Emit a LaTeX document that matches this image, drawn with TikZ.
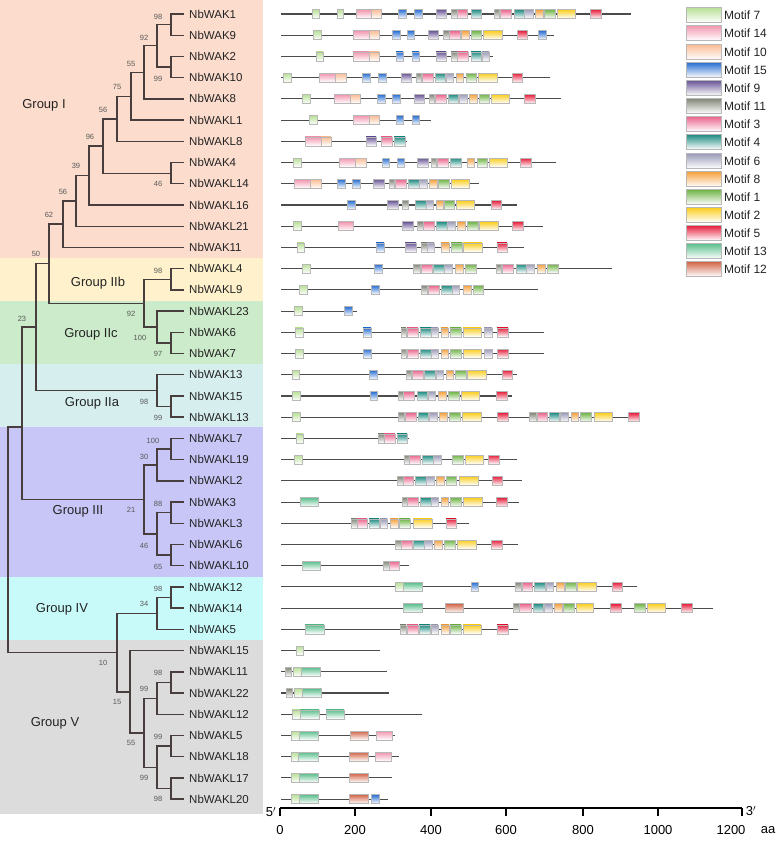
\documentclass[tikz,border=0pt]{standalone}
\usepackage{fontspec}
\setmainfont{Liberation Sans}
\definecolor{bgI}{RGB}{252,220,204}
\definecolor{bgIIb}{RGB}{254,241,204}
\definecolor{bgIIc}{RGB}{204,235,202}
\definecolor{bgIIa}{RGB}{214,238,238}
\definecolor{bgIII}{RGB}{200,198,246}
\definecolor{bgIV}{RGB}{200,250,250}
\definecolor{bgV}{RGB}{220,220,220}
\definecolor{mc7}{RGB}{184,224,150}
\definecolor{mc14}{RGB}{242,150,175}
\definecolor{mc10}{RGB}{250,188,148}
\definecolor{mc15}{RGB}{40,110,210}
\definecolor{mc9}{RGB}{105,85,150}
\definecolor{mc11}{RGB}{130,135,120}
\definecolor{mc3}{RGB}{235,100,140}
\definecolor{mc4}{RGB}{30,140,130}
\definecolor{mc6}{RGB}{155,155,185}
\definecolor{mc8}{RGB}{245,160,60}
\definecolor{mc1}{RGB}{110,180,70}
\definecolor{mc2}{RGB}{250,205,30}
\definecolor{mc5}{RGB}{230,30,60}
\definecolor{mc13}{RGB}{90,190,140}
\definecolor{mc12}{RGB}{210,100,70}
\definecolor{treec}{RGB}{72,62,62}
\definecolor{txt}{RGB}{35,35,35}
\newcommand{\mrow}[3]{%
  \draw[gene] (281,#1) -- (#2,#1);
  \foreach \a/\b/\c in {#3} {
    \path[mbox, top color=mc\c, bottom color=white] (\a,#1-4.5) rectangle (\b,#1+4.5);
  }%
}
\begin{document}
\begin{tikzpicture}[x=1pt,y=-1pt,
  leaf/.style={anchor=west, inner sep=0pt, text=txt, font=\fontsize{11.5}{13}\selectfont},
  grp/.style={inner sep=0pt, text=txt, font=\fontsize{13}{15}\selectfont},
  bs/.style={inner sep=0pt, text=black!65, font=\fontsize{7.5}{9}\selectfont},
  br/.style={draw=treec, line width=1.4pt},
  gene/.style={draw=black!70, line width=1.1pt},
  mbox/.style={draw=black!28, line width=0.6pt},
  leg/.style={anchor=west, inner sep=0pt, text=txt, font=\fontsize{12}{14}\selectfont},
  axl/.style={inner sep=0pt, text=black, font=\fontsize{13}{15}\selectfont}]
\useasboundingbox (0,0) rectangle (777,843);
\fill[white] (0,0) rectangle (777,843);
% group bands
\fill[bgI] (0,0) rectangle (263,258);
\fill[bgIIb] (0,258) rectangle (263,301);
\fill[bgIIc] (0,301) rectangle (263,364);
\fill[bgIIa] (0,364) rectangle (263,427);
\fill[bgIII] (0,427) rectangle (263,577);
\fill[bgIV] (0,577) rectangle (263,640);
\fill[bgV] (0,640) rectangle (263,814);
\node[grp] (gI) at (44,105) {Group I};
\node[grp] (gIIb) at (98,283) {Group IIb};
\node[grp] (gIIc) at (91,334) {Group IIc};
\node[grp] (gIIa) at (92,403) {Group IIa};
\node[grp] (gIII) at (78,511) {Group III};
\node[grp] (gIV) at (62,609) {Group IV};
\node[grp] (gV) at (55,723) {Group V};
% leaves
\foreach \nm [count=\i from 0] in {NbWAK1,NbWAK9,NbWAK2,NbWAK10,NbWAK8,NbWAKL1,NbWAKL8,NbWAK4,NbWAKL14,NbWAKL16,NbWAKL21,NbWAK11,NbWAKL4,NbWAKL9,NbWAKL23,NbWAK6,NbWAK7,NbWAK13,NbWAK15,NbWAKL13,NbWAKL7,NbWAKL19,NbWAKL2,NbWAK3,NbWAKL3,NbWAKL6,NbWAKL10,NbWAK12,NbWAK14,NbWAK5,NbWAKL15,NbWAKL11,NbWAKL22,NbWAKL12,NbWAKL5,NbWAKL18,NbWAKL17,NbWAKL20} {
  \coordinate (t\i) at (184,{14+21.22*\i});
  \node[leaf] (leaf\i) at (189,{14+21.22*\i}) {\nm};
}
% internal nodes
\coordinate (a19) at (171,24.6);
\coordinate (a210) at (171,67.05);
\coordinate (a92) at (157,45.8);
\coordinate (a55) at (144,72.4);
\coordinate (a75) at (131,96.2);
\coordinate (a56) at (117,118.8);
\coordinate (a414) at (171,173.2);
\coordinate (a96) at (103,146.0);
\coordinate (a39) at (89,175.5);
\coordinate (b56) at (76,200.9);
\coordinate (a62) at (63,224.1);
\coordinate (aL49) at (171,279.3);
\coordinate (a67) at (171,342.9);
\coordinate (a100) at (157,327.0);
\coordinate (b92) at (144,303.2);
\coordinate (a50) at (49,263.6);
\coordinate (a1513) at (171,406.6);
\coordinate (aIIa) at (157,390.7);
\coordinate (a23) at (36,327.1);
\coordinate (aL719) at (171,449.0);
\coordinate (a30) at (157,464.9);
\coordinate (a3L3) at (171,512.7);
\coordinate (aL610) at (171,555.1);
\coordinate (b46) at (157,533.9);
\coordinate (a21) at (144,499.4);
\coordinate (aA) at (22,427);
\coordinate (a1214) at (171,597.6);
\coordinate (a34) at (157,613.5);
\coordinate (aL1122) at (171,682.4);
\coordinate (c99) at (157,698.4);
\coordinate (aL518) at (171,746.1);
\coordinate (aL1720) at (171,788.5);
\coordinate (d99) at (157,767.3);
\coordinate (b55) at (144,732.9);
\coordinate (a15) at (130,691.8);
\coordinate (a10) at (117,652.7);
\coordinate (root) at (8,533);
\foreach \p/\c in {a19/t0,a19/t1,a210/t2,a210/t3,a92/a19,a92/a210,a55/a92,a55/t4,a75/a55,a75/t5,a56/a75,a56/t6,a414/t7,a414/t8,a96/a56,a96/a414,a39/a96,a39/t9,b56/a39,b56/t10,a62/b56,a62/t11,aL49/t12,aL49/t13,a67/t15,a67/t16,a100/t14,a100/a67,b92/aL49,b92/a100,a50/a62,a50/b92,a1513/t18,a1513/t19,aIIa/t17,aIIa/a1513,a23/a50,a23/aIIa,aL719/t20,aL719/t21,a30/aL719,a30/t22,a3L3/t23,a3L3/t24,aL610/t25,aL610/t26,b46/a3L3,b46/aL610,a21/a30,a21/b46,aA/a23,aA/a21,a1214/t27,a1214/t28,a34/a1214,a34/t29,aL1122/t31,aL1122/t32,c99/aL1122,c99/t33,aL518/t34,aL518/t35,aL1720/t36,aL1720/t37,d99/aL518,d99/aL1720,b55/c99,b55/d99,a15/t30,a15/b55,a10/a34,a10/a15,root/aA,root/a10} {
  \draw[br] (\p) |- (\c);
}
% bootstrap values
\foreach \x/\y/\t [count=\k] in {158/17/98,144/38/92,158/79/99,131/64/55,117/87/75,103/110/56,90/137/96,76/166/39,158/184/46,63/192/56,49/215/62,36/254/50,158/271/98,131/314/92,22/319/23,140/338/100,158/354/97,144/402/98,158/418/99,153/441/100,144/457/30,131/510/21,158/504/88,144/546/46,158/567/65,158/589/98,144/604/34,103/663/10,158/673/98,144/689/99,117/702/15,158/737/99,131/743/55,144/778/99,158/799/98} {
  \node[bs] (bs\k) at (\x,\y) {\t};
}
% motif rows
\mrow{14.0}{631}{312/319/7,337/343/7,356/371/14,371/381/10,398/406/15,414/422/15,436/446/9,451/457/11,457/467/3,471/481/4,494/499/11,500/511/3,514/524/4,524/533/6,535/543/8,544/555/1,557/575/2,590/601/5}
\mrow{35.2}{554}{313/321/7,353/369/14,369/379/10,392/400/15,407/414/15,428/438/9,443/449/11,449/460/3,461/469/8,471/481/1,483/502/2,517/527/5,538/546/15}
\mrow{56.4}{493}{316/323/7,353/369/14,369/379/10,396/403/15,412/419/15,436/446/9,451/457/11,457/468/3,471/481/4,482/489/6}
\mrow{77.7}{550}{283/291/7,319/335/14,335/346/10,362/370/15,378/386/15,401/411/9,416/421/11,422/433/3,435/445/4,446/453/6,456/463/8,466/476/1,478/497/2,512/522/5}
\mrow{98.9}{561}{302/310/7,334/350/14,350/360/10,377/385/15,392/400/15,414/424/9,429/434/11,435/446/3,448/458/4,459/467/6,469/477/8,479/489/1,491/509/2,524/535/5}
\mrow{120.1}{431}{309/317/7,353/369/14,369/379/10,396/403/15,412/419/15}
\mrow{141.3}{407}{305/321/14,321/331/10,366/376/9,381/392/3,394/405/4}
\mrow{162.5}{556}{293/301/7,339/355/14,355/366/10,382/389/15,397/404/15,417/428/9,431/436/11,437/448/3,450/461/4,467/474/8,477/487/1,489/507/2,520/531/5}
\mrow{183.8}{479}{294/310/14,310/321/10,337/345/15,352/360/15,373/384/9,389/394/11,395/406/3,408/419/4,419/427/6,429/437/8,438/449/1,451/469/2}
\mrow{205.0}{517}{347/355/15,387/398/9,402/408/11,415/426/4,426/433/6,436/443/8,444/454/1,456/474/2,491/501/5}
\mrow{226.2}{543}{293/301/7,338/353/14,402/413/9,417/423/11,423/434/3,436/447/4,447/455/6,457/465/8,467/478/1,479/498/2,512/523/5}
\mrow{247.4}{524}{297/304/7,376/384/15,405/416/9,421/427/11,427/434/6,441/449/8,451/462/1,463/482/2,497/507/5}
\mrow{268.6}{612}{302/310/7,374/382/15,413/420/11,421/432/3,433/444/4,444/452/6,455/463/8,465/476/1,496/501/11,502/513/3,516/526/4,526/534/6,537/545/8,547/558/1}
\mrow{289.9}{538}{299/307/7,371/379/15,421/427/11,428/439/3,441/452/4,452/459/6,463/471/8,473/483/1}
\mrow{311.1}{357}{294/302/7,344/352/15}
\mrow{332.3}{544}{295/303/7,363/371/15,401/406/11,407/418/3,420/431/4,431/438/6,441/448/8,450/461/1,463/481/2,484/492/6,497/508/5}
\mrow{353.5}{544}{295/303/7,363/371/15,401/406/11,407/418/3,420/431/4,431/438/6,441/448/8,450/461/1,463/481/2,484/492/6,497/508/5}
\mrow{374.7}{517}{292/299/7,369/377/15,406/411/11,412/423/3,424/435/4,436/443/6,446/453/8,455/466/1,467/486/2,502/512/5}
\mrow{396.0}{512}{292/300/7,370/377/15,398/403/11,403/414/3,417/427/4,428/435/6,438/446/8,448/459/1,461/479/2,496/507/5}
\mrow{417.2}{640}{292/300/7,398/404/11,405/416/3,418/428/4,429/437/6,439/447/8,449/460/1,462/481/2,497/508/5,529/536/11,537/547/3,549/559/4,560/568/6,571/578/8,580/591/1,594/612/2,628/639/5}
\mrow{438.4}{409}{296/303/7,378/384/11,384/395/3,397/407/4}
\mrow{459.6}{517}{294/302/7,404/409/11,409/420/3,422/433/4,433/441/6,452/463/1,465/483/2,488/499/5}
\mrow{480.8}{522}{397/403/11,403/413/3,415/426/4,426/434/6,436/444/8,446/456/1,459/478/2,492/502/5}
\mrow{502.1}{519}{300/318/13,402/407/11,407/418/3,420/431/4,431/438/6,441/448/8,450/461/1,463/482/2,496/507/5}
\mrow{523.3}{469}{351/357/11,357/367/3,369/379/4,380/387/6,390/398/8,399/410/1,413/432/2,446/456/5}
\mrow{544.5}{518}{395/401/11,401/412/3,413/424/4,424/432/6,434/442/8,444/455/1,457/476/2,491/502/5}
\mrow{565.7}{409}{302/320/13,383/389/11,389/399/3}
\mrow{586.9}{637}{395/403/7,403/422/13,471/478/15,515/521/11,522/532/3,534/545/4,546/553/6,556/564/8,565/576/1,577/596/2,612/622/5}
\mrow{608.2}{713}{403/422/13,445/463/12,513/519/11,519/531/3,533/543/4,544/552/6,554/562/8,563/574/1,576/593/2,610/621/5,634/645/1,647/665/2,681/692/5}
\mrow{629.4}{518}{305/324/13,400/406/11,407/418/3,419/430/4,431/438/6,441/449/8,450/461/1,463/481/2,497/508/5}
\mrow{650.6}{380}{296/303/7}
\mrow{671.8}{387}{285/291/11,293/301/7,301/320/13}
\mrow{693.0}{389}{286/292/11,294/302/7,302/321/13}
\mrow{714.3}{422}{292/300/7,300/319/13,326/344/13}
\mrow{735.5}{395}{291/299/7,299/318/13,350/368/12,376/392/14}
\mrow{756.7}{399}{291/298/7,298/318/13,349/368/12,375/391/14}
\mrow{777.9}{392}{291/299/7,299/318/13,349/368/12}
\mrow{799.1}{388}{291/299/7,299/318/13,349/368/12,371/379/15}
% legend
\foreach \m/\y [count=\k] in {7/15,14/33,10/52,15/70,9/88,11/106,3/124,4/142,6/161,8/179,1/197,2/215,5/233,13/251,12/269} {
  \path[mbox, top color=mc\m, bottom color=white] (686,\y-7.5) rectangle (721,\y+7.5);
  \node[leg] (leg\k) at (724,\y) {Motif \m};
}
% axis
\coordinate (ax0) at (280,808);
\coordinate (ax1) at (742,808);
\draw[line width=1.3pt] (ax0) -- (ax1);
\foreach \x/\t/\lx [count=\k] in {280/0/280,355/200/355,431/400/431,506/600/506,583/800/583,658/1000/658,742/1200/731} {
  \draw[line width=1.3pt] (\x,808) -- (\x,816);
  \node[axl] (tick\k) at (\lx,830) {\t};
}
\node[axl] (aa) at (768,830) {aa};
\node[axl] (five) at (271,812) {5$'$};
\node[axl] (three) at (751,811) {3$'$};
\end{tikzpicture}
\end{document}
